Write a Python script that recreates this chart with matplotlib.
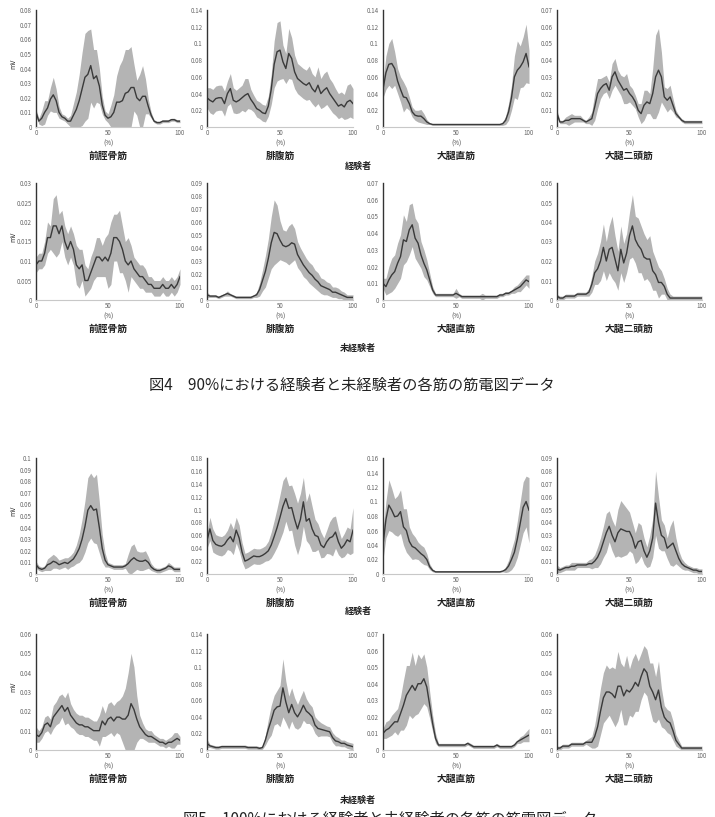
import numpy as np
import matplotlib
matplotlib.use("Agg")
import matplotlib.pyplot as plt
from matplotlib.ticker import FuncFormatter

plt.rcParams['font.family'] = ['Noto Sans CJK JP', 'DejaVu Sans']

# gait cycle (%)
pct = list(range(0, 101, 2))

muscles = ["前脛骨筋", "腓腹筋", "大腿直筋", "大腿二頭筋"]
groups = ["経験者", "未経験者"]
captions = ["図4　90%における経験者と未経験者の各筋の筋電図データ",
            "図5　100%における経験者と未経験者の各筋の筋電図データ"]

# ---- 図4 (90%) 経験者 ----
f4_exp_ta_mean = [0.010, 0.004, 0.006, 0.010, 0.013, 0.019, 0.022, 0.018, 0.010, 0.007,
                  0.006, 0.004, 0.004, 0.008, 0.012, 0.018, 0.026, 0.034, 0.036, 0.042,
                  0.033, 0.035, 0.028, 0.015, 0.008, 0.006, 0.007, 0.010, 0.017, 0.017,
                  0.018, 0.023, 0.024, 0.027, 0.027, 0.020, 0.018, 0.021, 0.021, 0.014,
                  0.008, 0.004, 0.003, 0.003, 0.004, 0.004, 0.004, 0.005, 0.005, 0.004, 0.004]
f4_exp_ta_sd = [0.002, 0.002, 0.005, 0.008, 0.005, 0.008, 0.012, 0.008, 0.004, 0.002,
                0.002, 0.002, 0.004, 0.008, 0.012, 0.018, 0.025, 0.030, 0.030, 0.025,
                0.020, 0.018, 0.012, 0.006, 0.003, 0.003, 0.008, 0.012, 0.018, 0.025,
                0.028, 0.030, 0.029, 0.028, 0.016, 0.012, 0.018, 0.021, 0.012, 0.005,
                0.002, 0.001, 0.001, 0.001, 0.001, 0.001, 0.001, 0.001, 0.001, 0.001, 0.001]
f4_exp_gc_mean = [0.035, 0.032, 0.030, 0.034, 0.035, 0.035, 0.028, 0.040, 0.046, 0.032,
                  0.030, 0.032, 0.035, 0.038, 0.040, 0.033, 0.028, 0.022, 0.020, 0.017,
                  0.016, 0.025, 0.045, 0.075, 0.090, 0.092, 0.078, 0.070, 0.088, 0.082,
                  0.066, 0.058, 0.055, 0.052, 0.050, 0.053, 0.046, 0.042, 0.050, 0.040,
                  0.044, 0.047, 0.040, 0.035, 0.030, 0.025, 0.027, 0.024, 0.030, 0.032, 0.028]
f4_exp_gc_sd = [0.012, 0.015, 0.015, 0.015, 0.015, 0.015, 0.015, 0.015, 0.018, 0.015,
                0.014, 0.015, 0.015, 0.020, 0.018, 0.012, 0.010, 0.010, 0.010, 0.010,
                0.010, 0.012, 0.018, 0.028, 0.035, 0.035, 0.020, 0.018, 0.030, 0.025,
                0.020, 0.018, 0.018, 0.018, 0.018, 0.020, 0.018, 0.018, 0.022, 0.018,
                0.020, 0.020, 0.018, 0.018, 0.016, 0.015, 0.015, 0.015, 0.020, 0.020, 0.018]
f4_exp_rf_mean = [0.045, 0.065, 0.075, 0.076, 0.070, 0.055, 0.045, 0.036, 0.035, 0.028,
                  0.018, 0.014, 0.013, 0.013, 0.010, 0.006, 0.004, 0.003, 0.003, 0.003,
                  0.003, 0.003, 0.003, 0.003, 0.003, 0.003, 0.003, 0.003, 0.003, 0.003,
                  0.003, 0.003, 0.003, 0.003, 0.003, 0.003, 0.003, 0.003, 0.003, 0.003,
                  0.003, 0.004, 0.008, 0.018, 0.035, 0.060, 0.068, 0.072, 0.078, 0.088, 0.072]
f4_exp_rf_sd = [0.010, 0.020, 0.025, 0.030, 0.020, 0.015, 0.015, 0.018, 0.012, 0.008,
                0.006, 0.006, 0.007, 0.008, 0.006, 0.003, 0.001, 0.001, 0.001, 0.001,
                0.001, 0.001, 0.001, 0.001, 0.001, 0.001, 0.001, 0.001, 0.001, 0.001,
                0.001, 0.001, 0.001, 0.001, 0.001, 0.001, 0.001, 0.001, 0.001, 0.001,
                0.001, 0.002, 0.005, 0.010, 0.015, 0.025, 0.035, 0.025, 0.030, 0.035, 0.020]
f4_exp_bf_mean = [0.008, 0.003, 0.003, 0.004, 0.004, 0.005, 0.005, 0.005, 0.005, 0.004,
                  0.003, 0.004, 0.005, 0.012, 0.020, 0.023, 0.025, 0.026, 0.022, 0.030,
                  0.033, 0.028, 0.025, 0.022, 0.023, 0.020, 0.018, 0.015, 0.010, 0.008,
                  0.013, 0.015, 0.014, 0.020, 0.030, 0.034, 0.030, 0.018, 0.016, 0.018,
                  0.013, 0.008, 0.006, 0.004, 0.003, 0.003, 0.003, 0.003, 0.003, 0.003, 0.003]
f4_exp_bf_sd = [0.002, 0.001, 0.001, 0.002, 0.003, 0.003, 0.002, 0.002, 0.002, 0.001,
                0.001, 0.002, 0.004, 0.008, 0.009, 0.006, 0.005, 0.005, 0.005, 0.008,
                0.008, 0.006, 0.006, 0.008, 0.009, 0.005, 0.005, 0.004, 0.004, 0.006,
                0.009, 0.007, 0.006, 0.015, 0.025, 0.025, 0.015, 0.006, 0.007, 0.007,
                0.004, 0.002, 0.001, 0.001, 0.001, 0.001, 0.001, 0.001, 0.001, 0.001, 0.001]

# ---- 図4 (90%) 未経験者 ----
f4_nov_ta_mean = [0.009, 0.010, 0.010, 0.012, 0.016, 0.016, 0.019, 0.019, 0.017, 0.019,
                  0.015, 0.013, 0.015, 0.013, 0.009, 0.008, 0.009, 0.005, 0.005, 0.007,
                  0.009, 0.011, 0.011, 0.010, 0.011, 0.010, 0.012, 0.016, 0.016, 0.015,
                  0.013, 0.010, 0.009, 0.010, 0.008, 0.007, 0.006, 0.006, 0.005, 0.004,
                  0.004, 0.003, 0.003, 0.003, 0.004, 0.003, 0.003, 0.004, 0.003, 0.004, 0.006]
f4_nov_ta_sd = [0.002, 0.002, 0.002, 0.003, 0.004, 0.003, 0.007, 0.008, 0.005, 0.004,
                0.004, 0.004, 0.004, 0.004, 0.005, 0.005, 0.004, 0.004, 0.003, 0.004,
                0.004, 0.005, 0.005, 0.004, 0.005, 0.007, 0.008, 0.006, 0.006, 0.008,
                0.006, 0.005, 0.007, 0.004, 0.003, 0.003, 0.003, 0.003, 0.003, 0.002,
                0.002, 0.002, 0.002, 0.002, 0.002, 0.002, 0.002, 0.002, 0.002, 0.002, 0.002]
f4_nov_gc_mean = [0.004, 0.003, 0.003, 0.003, 0.002, 0.003, 0.004, 0.005, 0.004, 0.003,
                  0.002, 0.002, 0.002, 0.002, 0.002, 0.002, 0.003, 0.004, 0.008, 0.015,
                  0.022, 0.032, 0.044, 0.052, 0.051, 0.046, 0.042, 0.041, 0.042, 0.044,
                  0.043, 0.035, 0.031, 0.027, 0.024, 0.021, 0.019, 0.016, 0.014, 0.011,
                  0.010, 0.009, 0.008, 0.006, 0.006, 0.005, 0.004, 0.003, 0.002, 0.002, 0.002]
f4_nov_gc_sd = [0.002, 0.001, 0.001, 0.001, 0.001, 0.001, 0.001, 0.002, 0.001, 0.001,
                0.001, 0.001, 0.001, 0.001, 0.001, 0.001, 0.001, 0.002, 0.005, 0.008,
                0.012, 0.015, 0.020, 0.025, 0.022, 0.015, 0.012, 0.012, 0.015, 0.015,
                0.012, 0.010, 0.009, 0.009, 0.008, 0.008, 0.008, 0.007, 0.007, 0.006,
                0.006, 0.005, 0.005, 0.004, 0.004, 0.004, 0.003, 0.003, 0.002, 0.002, 0.002]
f4_nov_rf_mean = [0.010, 0.008, 0.012, 0.015, 0.017, 0.022, 0.026, 0.036, 0.035, 0.042,
                  0.045, 0.037, 0.034, 0.027, 0.022, 0.018, 0.012, 0.006, 0.003, 0.003,
                  0.003, 0.003, 0.003, 0.003, 0.003, 0.004, 0.003, 0.002, 0.002, 0.002,
                  0.002, 0.002, 0.002, 0.002, 0.002, 0.002, 0.002, 0.002, 0.002, 0.002,
                  0.003, 0.003, 0.004, 0.004, 0.005, 0.006, 0.007, 0.008, 0.010, 0.012, 0.011]
f4_nov_rf_sd = [0.003, 0.005, 0.008, 0.010, 0.010, 0.012, 0.013, 0.015, 0.012, 0.015,
                0.013, 0.012, 0.012, 0.008, 0.008, 0.006, 0.004, 0.002, 0.001, 0.001,
                0.001, 0.001, 0.001, 0.001, 0.001, 0.003, 0.001, 0.001, 0.001, 0.001,
                0.001, 0.001, 0.001, 0.001, 0.002, 0.001, 0.001, 0.001, 0.001, 0.001,
                0.001, 0.001, 0.001, 0.001, 0.001, 0.002, 0.002, 0.003, 0.003, 0.003, 0.004]
f4_nov_bf_mean = [0.002, 0.001, 0.001, 0.002, 0.002, 0.002, 0.002, 0.003, 0.003, 0.003,
                  0.003, 0.004, 0.008, 0.014, 0.016, 0.020, 0.027, 0.020, 0.026, 0.027,
                  0.021, 0.015, 0.026, 0.019, 0.024, 0.033, 0.038, 0.031, 0.028, 0.026,
                  0.022, 0.021, 0.021, 0.015, 0.013, 0.009, 0.009, 0.007, 0.003, 0.001,
                  0.001, 0.001, 0.001, 0.001, 0.001, 0.001, 0.001, 0.001, 0.001, 0.001, 0.001]
f4_nov_bf_sd = [0.001, 0.001, 0.001, 0.001, 0.001, 0.001, 0.001, 0.001, 0.001, 0.001,
                0.001, 0.002, 0.004, 0.006, 0.008, 0.010, 0.012, 0.010, 0.012, 0.016,
                0.012, 0.010, 0.012, 0.010, 0.010, 0.012, 0.016, 0.012, 0.014, 0.012,
                0.012, 0.010, 0.012, 0.010, 0.008, 0.008, 0.006, 0.004, 0.003, 0.002,
                0.001, 0.001, 0.001, 0.001, 0.001, 0.001, 0.001, 0.001, 0.001, 0.001, 0.001]

# ---- 図5 (100%) 経験者 ----
f5_exp_ta_mean = [0.008, 0.005, 0.004, 0.005, 0.008, 0.009, 0.011, 0.010, 0.008, 0.009,
                  0.010, 0.009, 0.011, 0.013, 0.017, 0.022, 0.030, 0.041, 0.055, 0.059,
                  0.055, 0.056, 0.040, 0.022, 0.012, 0.008, 0.007, 0.006, 0.006, 0.006,
                  0.006, 0.007, 0.009, 0.012, 0.014, 0.012, 0.011, 0.011, 0.012, 0.010,
                  0.006, 0.004, 0.003, 0.003, 0.004, 0.005, 0.007, 0.006, 0.004, 0.004, 0.004]
f5_exp_ta_sd = [0.003, 0.002, 0.002, 0.002, 0.005, 0.006, 0.006, 0.005, 0.004, 0.004,
                0.004, 0.005, 0.005, 0.006, 0.008, 0.012, 0.017, 0.022, 0.028, 0.028,
                0.028, 0.030, 0.022, 0.012, 0.006, 0.002, 0.002, 0.002, 0.002, 0.002,
                0.002, 0.002, 0.008, 0.012, 0.012, 0.008, 0.008, 0.008, 0.008, 0.005,
                0.003, 0.002, 0.002, 0.002, 0.002, 0.002, 0.003, 0.002, 0.002, 0.002, 0.002]
f5_exp_gc_mean = [0.052, 0.070, 0.052, 0.046, 0.044, 0.043, 0.046, 0.053, 0.058, 0.050,
                  0.068, 0.056, 0.034, 0.020, 0.022, 0.025, 0.028, 0.027, 0.027, 0.029,
                  0.032, 0.036, 0.045, 0.058, 0.072, 0.088, 0.105, 0.117, 0.102, 0.103,
                  0.085, 0.070, 0.085, 0.112, 0.082, 0.086, 0.070, 0.060, 0.058, 0.045,
                  0.041, 0.050, 0.056, 0.058, 0.065, 0.050, 0.040, 0.045, 0.053, 0.050, 0.068]
f5_exp_gc_sd = [0.012, 0.018, 0.018, 0.015, 0.015, 0.015, 0.015, 0.015, 0.022, 0.020,
                0.020, 0.020, 0.015, 0.012, 0.012, 0.012, 0.012, 0.012, 0.012, 0.012,
                0.012, 0.015, 0.020, 0.025, 0.030, 0.035, 0.040, 0.035, 0.035, 0.035,
                0.040, 0.040, 0.040, 0.038, 0.030, 0.040, 0.035, 0.025, 0.020, 0.020,
                0.015, 0.018, 0.025, 0.030, 0.025, 0.020, 0.015, 0.018, 0.020, 0.020, 0.035]
f5_exp_rf_mean = [0.040, 0.075, 0.095, 0.088, 0.079, 0.080, 0.086, 0.065, 0.060, 0.045,
                  0.038, 0.036, 0.032, 0.028, 0.025, 0.020, 0.010, 0.005, 0.003, 0.003,
                  0.003, 0.003, 0.003, 0.003, 0.003, 0.003, 0.003, 0.003, 0.003, 0.003,
                  0.003, 0.003, 0.003, 0.003, 0.003, 0.003, 0.003, 0.003, 0.003, 0.003,
                  0.003, 0.004, 0.006, 0.011, 0.020, 0.030, 0.048, 0.070, 0.092, 0.100, 0.088]
f5_exp_rf_sd = [0.020, 0.025, 0.035, 0.030, 0.025, 0.028, 0.030, 0.025, 0.030, 0.020,
                0.018, 0.015, 0.012, 0.012, 0.012, 0.008, 0.004, 0.002, 0.001, 0.001,
                0.001, 0.001, 0.001, 0.001, 0.001, 0.001, 0.001, 0.001, 0.001, 0.001,
                0.001, 0.001, 0.001, 0.001, 0.001, 0.001, 0.001, 0.001, 0.001, 0.001,
                0.001, 0.001, 0.004, 0.008, 0.014, 0.018, 0.025, 0.030, 0.035, 0.035, 0.045]
f5_exp_bf_mean = [0.004, 0.003, 0.004, 0.005, 0.005, 0.006, 0.006, 0.007, 0.007, 0.007,
                  0.007, 0.008, 0.008, 0.010, 0.013, 0.018, 0.025, 0.032, 0.037, 0.030,
                  0.025, 0.032, 0.035, 0.034, 0.033, 0.033, 0.028, 0.020, 0.025, 0.026,
                  0.018, 0.013, 0.018, 0.028, 0.055, 0.040, 0.030, 0.028, 0.020, 0.022,
                  0.024, 0.018, 0.012, 0.008, 0.006, 0.005, 0.004, 0.003, 0.003, 0.002, 0.002]
f5_exp_bf_sd = [0.003, 0.002, 0.002, 0.002, 0.002, 0.003, 0.003, 0.002, 0.002, 0.002,
                0.002, 0.003, 0.004, 0.005, 0.008, 0.010, 0.012, 0.015, 0.012, 0.012,
                0.012, 0.018, 0.022, 0.020, 0.018, 0.015, 0.012, 0.012, 0.015, 0.012,
                0.010, 0.008, 0.012, 0.015, 0.025, 0.020, 0.012, 0.010, 0.008, 0.015,
                0.018, 0.010, 0.006, 0.004, 0.003, 0.002, 0.002, 0.002, 0.002, 0.002, 0.002]

# ---- 図5 (100%) 未経験者 ----
f5_nov_ta_mean = [0.008, 0.007, 0.009, 0.013, 0.014, 0.012, 0.017, 0.019, 0.021, 0.023,
                  0.020, 0.022, 0.018, 0.016, 0.014, 0.013, 0.013, 0.012, 0.012, 0.011,
                  0.010, 0.010, 0.010, 0.015, 0.013, 0.016, 0.017, 0.015, 0.017, 0.017,
                  0.016, 0.016, 0.018, 0.024, 0.021, 0.016, 0.012, 0.010, 0.008, 0.007,
                  0.007, 0.006, 0.005, 0.004, 0.004, 0.003, 0.004, 0.004, 0.005, 0.006, 0.005]
f5_nov_ta_sd = [0.004, 0.003, 0.003, 0.004, 0.004, 0.004, 0.006, 0.006, 0.007, 0.006,
                0.007, 0.008, 0.006, 0.005, 0.005, 0.005, 0.005, 0.005, 0.005, 0.005,
                0.005, 0.005, 0.008, 0.008, 0.006, 0.008, 0.008, 0.008, 0.008, 0.009,
                0.012, 0.016, 0.022, 0.026, 0.022, 0.012, 0.006, 0.004, 0.003, 0.003,
                0.003, 0.002, 0.002, 0.002, 0.002, 0.002, 0.002, 0.003, 0.004, 0.003, 0.002]
f5_nov_gc_mean = [0.008, 0.005, 0.004, 0.003, 0.003, 0.004, 0.004, 0.004, 0.004, 0.004,
                  0.004, 0.004, 0.004, 0.004, 0.003, 0.003, 0.003, 0.003, 0.002, 0.003,
                  0.012, 0.025, 0.036, 0.048, 0.052, 0.053, 0.075, 0.058, 0.045, 0.055,
                  0.045, 0.040, 0.046, 0.054, 0.047, 0.044, 0.040, 0.030, 0.026, 0.025,
                  0.024, 0.023, 0.022, 0.015, 0.011, 0.010, 0.008, 0.008, 0.006, 0.005, 0.004]
f5_nov_gc_sd = [0.005, 0.002, 0.002, 0.002, 0.002, 0.002, 0.002, 0.002, 0.002, 0.002,
                0.002, 0.002, 0.002, 0.002, 0.002, 0.002, 0.002, 0.002, 0.002, 0.002,
                0.006, 0.012, 0.018, 0.018, 0.020, 0.025, 0.035, 0.025, 0.020, 0.020,
                0.018, 0.015, 0.018, 0.018, 0.015, 0.012, 0.012, 0.010, 0.010, 0.008,
                0.007, 0.006, 0.006, 0.006, 0.006, 0.005, 0.004, 0.004, 0.004, 0.004, 0.004]
f5_nov_rf_mean = [0.010, 0.012, 0.013, 0.015, 0.017, 0.017, 0.022, 0.027, 0.033, 0.036,
                  0.039, 0.036, 0.040, 0.040, 0.043, 0.038, 0.027, 0.016, 0.007, 0.003,
                  0.003, 0.003, 0.003, 0.003, 0.003, 0.003, 0.003, 0.003, 0.003, 0.004,
                  0.003, 0.002, 0.002, 0.002, 0.002, 0.002, 0.002, 0.002, 0.002, 0.003,
                  0.002, 0.002, 0.002, 0.002, 0.002, 0.003, 0.005, 0.006, 0.007, 0.008, 0.009]
f5_nov_rf_sd = [0.003, 0.005, 0.005, 0.006, 0.006, 0.008, 0.010, 0.015, 0.018, 0.015,
                0.020, 0.015, 0.018, 0.015, 0.015, 0.012, 0.008, 0.005, 0.003, 0.001,
                0.001, 0.001, 0.001, 0.001, 0.001, 0.001, 0.001, 0.001, 0.001, 0.001,
                0.001, 0.001, 0.001, 0.001, 0.001, 0.001, 0.001, 0.001, 0.001, 0.001,
                0.001, 0.001, 0.001, 0.001, 0.001, 0.001, 0.001, 0.002, 0.002, 0.003, 0.004]
f5_nov_bf_mean = [0.001, 0.001, 0.002, 0.002, 0.002, 0.003, 0.003, 0.003, 0.003, 0.003,
                  0.004, 0.004, 0.004, 0.007, 0.012, 0.020, 0.027, 0.030, 0.030, 0.029,
                  0.027, 0.033, 0.033, 0.028, 0.031, 0.030, 0.032, 0.035, 0.033, 0.038,
                  0.042, 0.040, 0.033, 0.030, 0.026, 0.031, 0.022, 0.017, 0.015, 0.014,
                  0.010, 0.005, 0.003, 0.001, 0.001, 0.001, 0.001, 0.001, 0.001, 0.001, 0.001]
f5_nov_bf_sd = [0.001, 0.001, 0.001, 0.001, 0.001, 0.001, 0.001, 0.001, 0.001, 0.001,
                0.001, 0.002, 0.003, 0.006, 0.010, 0.012, 0.013, 0.014, 0.012, 0.014,
                0.015, 0.018, 0.012, 0.015, 0.018, 0.012, 0.015, 0.015, 0.013, 0.012,
                0.012, 0.012, 0.012, 0.015, 0.012, 0.015, 0.010, 0.006, 0.006, 0.006,
                0.005, 0.003, 0.002, 0.001, 0.001, 0.001, 0.001, 0.001, 0.001, 0.001, 0.001]

rows = [
    [(f4_exp_ta_mean, f4_exp_ta_sd), (f4_exp_gc_mean, f4_exp_gc_sd),
     (f4_exp_rf_mean, f4_exp_rf_sd), (f4_exp_bf_mean, f4_exp_bf_sd)],
    [(f4_nov_ta_mean, f4_nov_ta_sd), (f4_nov_gc_mean, f4_nov_gc_sd),
     (f4_nov_rf_mean, f4_nov_rf_sd), (f4_nov_bf_mean, f4_nov_bf_sd)],
    [(f5_exp_ta_mean, f5_exp_ta_sd), (f5_exp_gc_mean, f5_exp_gc_sd),
     (f5_exp_rf_mean, f5_exp_rf_sd), (f5_exp_bf_mean, f5_exp_bf_sd)],
    [(f5_nov_ta_mean, f5_nov_ta_sd), (f5_nov_gc_mean, f5_nov_gc_sd),
     (f5_nov_rf_mean, f5_nov_rf_sd), (f5_nov_bf_mean, f5_nov_bf_sd)],
]

# y axis top / tick step of each panel
ylims = [[(0.08, 0.01), (0.14, 0.02), (0.14, 0.02), (0.07, 0.01)],
         [(0.03, 0.005), (0.09, 0.01), (0.07, 0.01), (0.06, 0.01)],
         [(0.10, 0.01), (0.18, 0.02), (0.16, 0.02), (0.09, 0.01)],
         [(0.06, 0.01), (0.14, 0.02), (0.07, 0.01), (0.06, 0.01)]]

W, H = 715, 817
fig = plt.figure(figsize=(W / 100, H / 100), dpi=100)

col_x = [(36, 180), (207, 353), (383, 529), (557, 702)]
row_y = [(10, 127), (183, 300), (458, 574), (634, 750)]


def fx(px):
    return px / W


def fy(py):
    return 1 - py / H


fmt = FuncFormatter(lambda v, p: "0" if abs(v) < 1e-9 else ("%g" % round(v, 4)))

for r in range(4):
    top, bot = row_y[r]
    for c in range(4):
        left, right = col_x[c]
        ax = fig.add_axes([fx(left), fy(bot), (right - left) / W, (bot - top) / H])
        mean, sd = rows[r][c]
        m = np.array(mean)
        s = np.array(sd)
        ax.fill_between(pct, np.clip(m - s, 0, None), m + s, color="#b4b4b4", lw=0)
        ax.plot(pct, m, color="#3a3a3a", lw=1.0)
        ymax, step = ylims[r][c]
        ax.set_xlim(0, 100)
        ax.set_ylim(0, ymax)
        ax.set_yticks(np.arange(0, ymax + step / 2, step))
        ax.set_xticks([0, 50, 100])
        ax.yaxis.set_major_formatter(fmt)
        ax.tick_params(length=0, labelsize=4.5, colors="#666666")
        ax.tick_params(axis="y", pad=3)
        ax.tick_params(axis="x", pad=1.5)
        for sp in ["top", "right"]:
            ax.spines[sp].set_visible(False)
        ax.spines["left"].set_color("#333333")
        ax.spines["left"].set_linewidth(1.0)
        ax.spines["bottom"].set_color("#c8c8c8")
        ax.spines["bottom"].set_linewidth(0.8)
        ax.patch.set_alpha(0)
        cx = (left + right) / 2
        fig.text(fx(cx), fy(bot + 17), "(%)", ha="center", va="center",
                 fontsize=4.5, color="#444444")
        fig.text(fx(cx), fy(bot + 29), muscles[c], ha="center", va="center",
                 fontsize=7, fontweight="bold", color="#222222")
    fig.text(fx(13), fy((top + bot) / 2 - 5), "mV", rotation=90, ha="center",
             va="center", fontsize=5, color="#333333")

group_y = [166, 348, 611, 800]
for r in range(4):
    fig.text(fx(358), fy(group_y[r]), groups[r % 2], ha="center", va="center",
             fontsize=6.5, fontweight="bold", color="#222222")

fig.text(fx(352), fy(385), captions[0], ha="center", va="center",
         fontsize=11, color="#222222")
# the reference page is cropped through this caption
fig.text(fx(390), fy(811), captions[1], ha="center", va="top",
         fontsize=11, color="#222222")

fig.savefig("out.png", dpi=100)
